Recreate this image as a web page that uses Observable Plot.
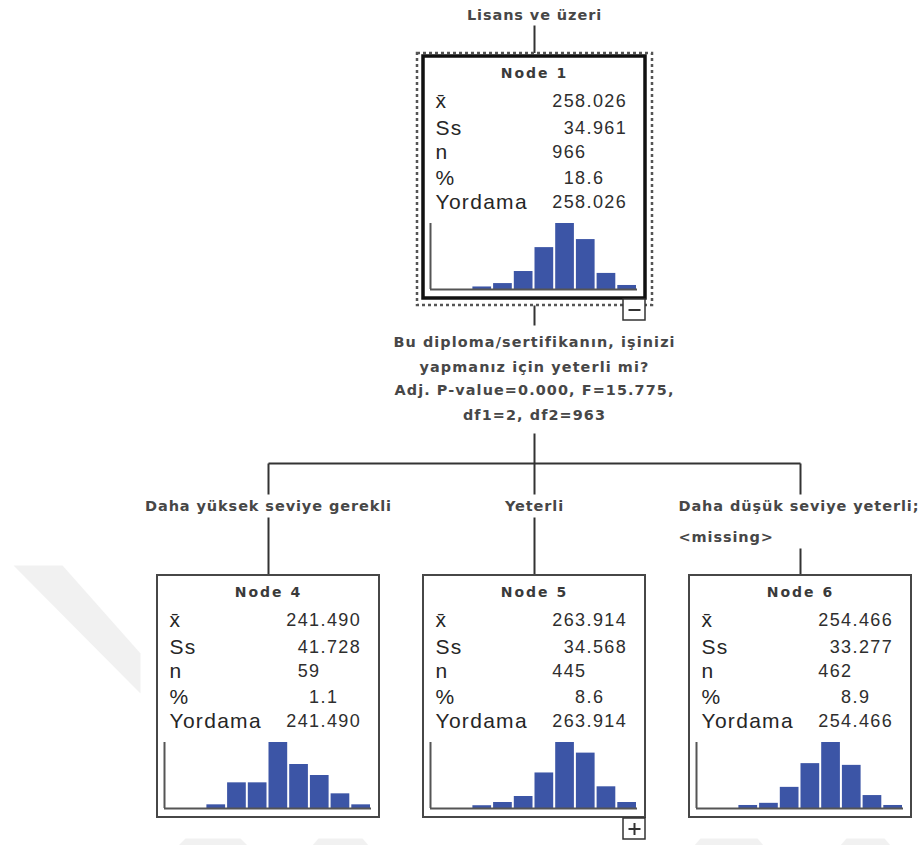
<!DOCTYPE html>
<html>
<head>
<meta charset="utf-8">
<script src="https://cdn.jsdelivr.net/npm/d3@7"></script>
<script src="https://cdn.jsdelivr.net/npm/@observablehq/plot@0.6"></script>
<style>
  body { margin: 0; background: #fff; }
  #chart { position: relative; width: 918px; height: 845px; overflow: hidden; }
  #chart svg { position: absolute; background: transparent; max-width: none; }
</style>
</head>
<body>
<div id="chart"></div>
<script>
// ---- Tree data -------------------------------------------------------------
const nodeIds   = [1, 4, 5, 6];
const nodeMeans = ["258.026", "241.490", "263.914", "254.466"];
const nodeSds   = ["34.961", "41.728", "34.568", "33.277"];
const nodeNs    = ["966", "59", "445", "462"];
const nodePcts  = ["18.6", "1.1", "8.6", "8.9"];
const nodePreds = ["258.026", "241.490", "263.914", "254.466"];
const statLabels = ["x̄", "Ss", "n", "%", "Yordama"];

// Histogram counts (10 equal-width bins) for each node
const histNode1 = [0, 0, 12, 28, 85, 198, 312, 236, 76, 19];
const histNode4 = [0, 0, 1, 7, 7, 18, 12, 9, 4, 1];
const histNode5 = [0, 0, 6, 13, 26, 77, 143, 120, 47, 13];
const histNode6 = [0, 0, 7, 12, 49, 104, 153, 100, 30, 7];

const rootLabel = "Lisans ve üzeri";
const splitLines = [
  "Bu diploma/sertifikanın, işinizi",
  "yapmanız için yeterli mi?",
  "Adj. P-value=0.000, F=15.775,",
  "df1=2, df2=963"
];
const branchLabels = [
  ["Daha yüksek seviye gerekli"],
  ["Yeterli"],
  ["Daha düşük seviye yeterli;", "<missing>"]
];
// which nodes are collapsed (+) or expanded (−)
const toggleNodes = [1, 5];
const toggleSigns = ["−", "+"];

// ---- Layout ----------------------------------------------------------------
const W = 918, H = 845;
const boxW = 222, boxH = 242;
const rootCx = 534, rootTop = 56, childTop = 575, childGap = 266;
const busY = 463, branchY = 506, branchStep = 31;
const hists = [histNode1, histNode4, histNode5, histNode6];

const nodes = nodeIds.map((id, i) => {
  const cx = i === 0 ? rootCx : rootCx + (i - 2) * childGap;
  const top = i === 0 ? rootTop : childTop;
  return {
    id, i, cx, top,
    left: cx - boxW / 2, right: cx + boxW / 2, bottom: top + boxH,
    stats: [nodeMeans[i], nodeSds[i], nodeNs[i], nodePcts[i], nodePreds[i]],
    hist: hists[i]
  };
});
const root = nodes[0];
const children = nodes.slice(1);

const rowOffsets = [45, 72, 96, 122, 146];
const statRows = nodes.flatMap(n => statLabels.map((label, r) => {
  const [intPart, fracPart] = n.stats[r].split(".");
  return {
    lx: n.left + 12, y: n.top + rowOffsets[r], label,
    dec: n.left + 163, intPart, fracPart: fracPart ? "." + fracPart : ""
  };
}));
const titles = nodes.map(n => ({x: n.cx, y: n.top + 17, text: `Node ${n.id}`}));

// branch labels under the bus line
const branchText = children.flatMap((c, k) => {
  const lines = branchLabels[k];
  const multi = lines.length > 1;
  return lines.map((t, j) => ({
    x: multi ? c.cx - 122 : c.cx, y: branchY + j * branchStep, text: t,
    anchor: multi ? "start" : "middle"
  }));
});

// connector segments
const segments = [
  {x1: rootCx, y1: 25, x2: rootCx, y2: root.top - 3},
  {x1: rootCx, y1: root.bottom + 7, x2: rootCx, y2: 325},
  {x1: rootCx, y1: 433, x2: rootCx, y2: busY},
  {x1: children[0].cx, y1: busY, x2: children[children.length - 1].cx, y2: busY},
  ...children.flatMap((c, k) => {
    const nLines = branchLabels[k].length;
    return [
      {x1: c.cx, y1: busY, x2: c.cx, y2: branchY - 12},
      {x1: c.cx, y1: branchY + (nLines - 1) * branchStep + 11, x2: c.cx, y2: c.top}
    ];
  })
];

// expand / collapse toggles
const toggles = toggleNodes.map((id, k) => {
  const n = nodes.find(d => d.id === id);
  return {x1: n.right - 22, x2: n.right, y1: n.bottom + 1, y2: n.bottom + 22,
          cx: n.right - 11, cy: n.bottom + 11.5, sign: toggleSigns[k]};
});
const toggleStrokes = toggles.flatMap(t => {
  const s = [{x1: t.cx - 6, y1: t.cy, x2: t.cx + 6, y2: t.cy}];
  if (t.sign === "+") s.push({x1: t.cx, y1: t.cy - 6, x2: t.cx, y2: t.cy + 6});
  return s;
});

// faint background watermark shapes
const watermark = [
  {id: 0, pts: [[13, 565], [62, 565], [140, 653], [140, 693]]},
  {id: 1, pts: [[185, 838], [240, 838], [247, 845], [178, 845]]},
  {id: 2, pts: [[318, 838], [362, 838], [368, 845], [312, 845]]},
  {id: 3, pts: [[700, 838], [757, 838], [763, 845], [694, 845]]},
  {id: 4, pts: [[846, 838], [884, 838], [890, 845], [840, 845]]}
].flatMap(w => w.pts.map(([x, y]) => ({id: w.id, x, y})));

const textFont = "DejaVu Sans";
const statFont = "Liberation Sans";
const ink = "#474747";
// font sizes double as hooks for the letter-spacing applied after rendering
const fs = {title: 14, label: 21, value: 18, edge: 14.5, split: 14.4};

// ---- Tree layer --------------------------------------------------------------
const tree = Plot.plot({
  width: W, height: H, margin: 0,
  x: {domain: [0, W], range: [0, W], axis: null},
  y: {domain: [0, H], range: [0, H], axis: null},
  marks: [
    Plot.line(watermark, {x: "x", y: "y", z: "id", curve: "linear-closed", fill: "#f1f1f1", stroke: "none"}),
    Plot.link(segments, {x1: "x1", y1: "y1", x2: "x2", y2: "y2", stroke: "#333", strokeWidth: 2}),
    // selection frame round the root node
    Plot.rect([root], {x1: d => d.left - 6, x2: d => d.right + 7, y1: d => d.top - 3, y2: d => d.bottom + 7,
      fill: "white", stroke: "#555", strokeWidth: 2.5, strokeDasharray: "3,3"}),
    Plot.rect(children, {x1: "left", x2: "right", y1: "top", y2: "bottom", fill: "white", stroke: "#474747", strokeWidth: 2}),
    Plot.rect([root], {x1: "left", x2: "right", y1: "top", y2: "bottom", fill: "white", stroke: "#111", strokeWidth: 3.5}),
    Plot.rect(toggles, {x1: "x1", x2: "x2", y1: "y1", y2: "y2", fill: "white", stroke: "#333", strokeWidth: 1.5}),
    Plot.link(toggleStrokes, {x1: "x1", y1: "y1", x2: "x2", y2: "y2", stroke: "#333", strokeWidth: 2}),
    Plot.text(titles, {x: "x", y: "y", text: "text", fontFamily: textFont, fontWeight: "bold", fontSize: fs.title, fill: "#3a3a3a"}),
    Plot.text(statRows, {x: "lx", y: "y", text: "label", textAnchor: "start", fontFamily: statFont, fontSize: fs.label, fill: "#262626"}),
    Plot.text(statRows, {x: "dec", y: "y", text: "intPart", textAnchor: "end", fontFamily: statFont, fontSize: fs.value, fill: "#2e2e2e"}),
    Plot.text(statRows, {x: "dec", y: "y", text: "fracPart", textAnchor: "start", fontFamily: statFont, fontSize: fs.value, fill: "#2e2e2e"}),
    Plot.text([rootLabel], {x: rootCx, y: 15, text: d => d, fontFamily: textFont, fontWeight: "bold", fontSize: fs.edge, fill: ink}),
    Plot.text(splitLines, {x: rootCx, y: (d, i) => [342, 367, 390, 415][i], text: d => d, fontFamily: textFont, fontWeight: "bold", fontSize: fs.split, fill: ink}),
    Plot.text(branchText.filter(d => d.anchor === "middle"), {x: "x", y: "y", text: "text", textAnchor: "middle", fontFamily: textFont, fontWeight: "bold", fontSize: fs.edge, fill: ink}),
    Plot.text(branchText.filter(d => d.anchor === "start"), {x: "x", y: "y", text: "text", textAnchor: "start", fontFamily: textFont, fontWeight: "bold", fontSize: fs.edge, fill: ink})
  ]
});
tree.style.left = "0px";
tree.style.top = "0px";
const spacing = [[fs.title, 2], [fs.label, 1.3], [fs.value, 1.4], [fs.edge, 0.9], [fs.split, 1.1]];
spacing.forEach(([size, ls]) => {
  d3.select(tree).selectAll("g").filter(function () {
    return +this.getAttribute("font-size") === size;
  }).selectAll("text").style("letter-spacing", `${ls}px`);
});
document.getElementById("chart").appendChild(tree);

// ---- Histograms inside each node -------------------------------------------------
const histW = 214, histHgt = 80;
nodes.forEach(n => {
  const bins = n.hist.map((count, bin) => ({bin, count})).filter(d => d.count > 0);
  const maxCount = d3.max(n.hist);
  const h = Plot.plot({
    width: histW, height: histHgt,
    marginLeft: 2, marginRight: 5, marginTop: 7, marginBottom: 7,
    x: {domain: [0, n.hist.length], axis: null},
    y: {domain: [0, maxCount], axis: null},
    marks: [
      Plot.rectY(bins, {x1: "bin", x2: d => d.bin + 1, y: "count", insetLeft: 1, insetRight: 1, fill: "#3c55a6"}),
      Plot.ruleY([0], {x1: 0, x2: n.hist.length, stroke: "#555", strokeWidth: 2}),
      Plot.ruleX([0], {y1: 0, y2: maxCount, stroke: "#555", strokeWidth: 2})
    ]
  });
  h.style.left = `${n.left + 5}px`;
  h.style.top = `${n.top + 160}px`;
  document.getElementById("chart").appendChild(h);
});
</script>
</body>
</html>
